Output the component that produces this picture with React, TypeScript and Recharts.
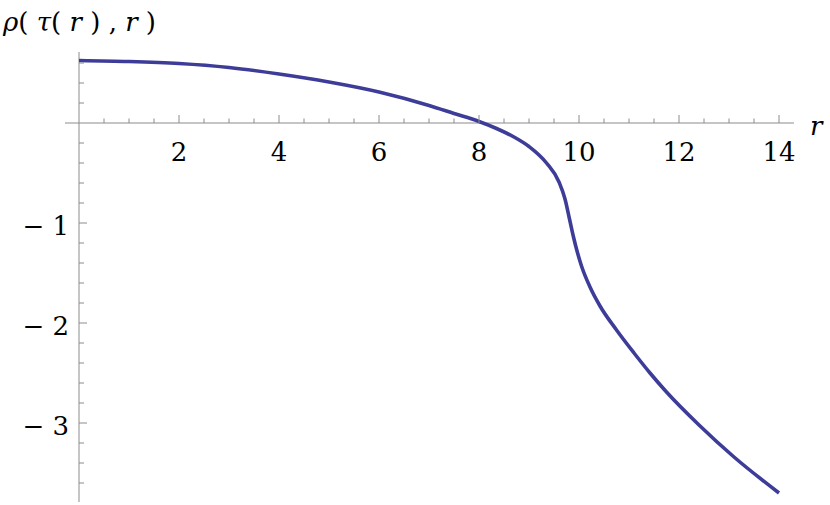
import React from 'react';
import { LineChart, Line, XAxis, YAxis, ReferenceLine, ReferenceDot } from 'recharts';

const rValues = [0, 1, 2, 3, 4, 5, 6, 7, 7.5, 8, 8.35, 8.7, 9, 9.35, 9.6, 9.72, 9.81, 9.89, 9.95, 10.05, 10.22, 10.42, 10.75, 11.1, 11.42, 11.75, 12.4, 13.1, 14];
const rhoValues = [0.625, 0.615, 0.595, 0.555, 0.49, 0.41, 0.31, 0.175, 0.095, 0.015, -0.055, -0.14, -0.235, -0.4, -0.59, -0.76, -0.96, -1.14, -1.26, -1.43, -1.64, -1.83, -2.07, -2.3, -2.5, -2.69, -3.02, -3.34, -3.7];

const xMinorTicks = [0.5, 1, 1.5, 2.5, 3, 3.5, 4.5, 5, 5.5, 6.5, 7, 7.5, 8.5, 9, 9.5, 10.5, 11, 11.5, 12.5, 13, 13.5];
const xMajorTicks = [2, 4, 6, 8, 10, 12, 14];
const yMinorTicks = [0.6, 0.4, 0.2, -0.2, -0.4, -0.6, -0.8, -1.2, -1.4, -1.6, -1.8, -2.2, -2.4, -2.6, -2.8, -3.2, -3.4, -3.6];
const yMajorTicks = [-1, -2, -3];

const data = rValues.map((r, i) => ({ r, rho: rhoValues[i] }));

const AXIS = '#8c8c8c';
const textStyle: React.CSSProperties = { fontFamily: "'DejaVu Serif', 'Liberation Serif', serif" };

const App: React.FC = () => {
  return (
    <div style={{ position: 'absolute', left: 0, top: 0, width: 830, height: 505, background: '#fff' }}>
      <LineChart width={830} height={505} data={data} margin={{ top: 43, right: 1, bottom: 2, left: 29 }}>
        <XAxis dataKey="r" type="number" domain={[-1, 15]} hide />
        <YAxis type="number" domain={[-3.8, 0.8]} hide allowDataOverflow />

        <ReferenceLine segment={[{ x: -0.28, y: 0 }, { x: 14.3, y: 0 }]} stroke={AXIS} strokeWidth={1} />
        <ReferenceLine segment={[{ x: 0, y: -3.79 }, { x: 0, y: 0.71 }]} stroke={AXIS} strokeWidth={1} />

        {xMinorTicks.map(t => (
          <ReferenceDot key={`xm-${t}`} x={t} y={0} r={0}
            shape={(p: any) => <line x1={p.cx} x2={p.cx} y1={p.cy} y2={p.cy - 4.5} stroke={AXIS} />} />
        ))}
        {xMajorTicks.map(t => (
          <ReferenceDot key={`xM-${t}`} x={t} y={0} r={0}
            shape={(p: any) => (
              <g>
                <line x1={p.cx} x2={p.cx} y1={p.cy} y2={p.cy - 8} stroke={AXIS} />
                <text x={p.cx} y={p.cy + 38} textAnchor="middle" style={textStyle} fontSize={26} fill="#000">{t}</text>
              </g>
            )} />
        ))}
        {yMinorTicks.map(t => (
          <ReferenceDot key={`ym-${t}`} x={0} y={t} r={0}
            shape={(p: any) => <line x1={p.cx} x2={p.cx + 5} y1={p.cy} y2={p.cy} stroke={AXIS} />} />
        ))}
        {yMajorTicks.map(t => (
          <ReferenceDot key={`yM-${t}`} x={0} y={t} r={0}
            shape={(p: any) => (
              <g>
                <line x1={p.cx} x2={p.cx + 8} y1={p.cy} y2={p.cy} stroke={AXIS} />
                <text x={p.cx - 10} y={p.cy + 12} textAnchor="end" style={textStyle} fontSize={26} fill="#000">{`\u2212 ${Math.abs(t)}`}</text>
              </g>
            )} />
        ))}

        <Line type="monotone" dataKey="rho" stroke="#3d3d99" strokeWidth={3.6} dot={false} isAnimationActive={false} />

        <text x={3} y={31} style={textStyle} fontSize={26} fill="#000">
          <tspan fontStyle="italic">ρ</tspan>
          <tspan>( </tspan>
          <tspan fontStyle="italic">τ</tspan>
          <tspan>( </tspan>
          <tspan fontStyle="italic">r</tspan>
          <tspan> ) , </tspan>
          <tspan fontStyle="italic">r</tspan>
          <tspan> )</tspan>
        </text>
        <text x={810} y={135} style={textStyle} fontSize={26} fontStyle="italic" fill="#000">r</text>
      </LineChart>
    </div>
  );
};

export default App;
